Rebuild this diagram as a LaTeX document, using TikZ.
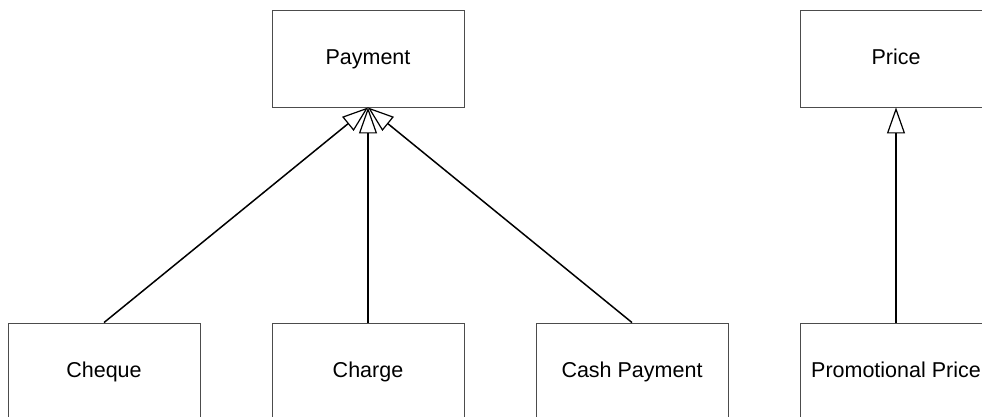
\documentclass[tikz,border=0pt]{standalone}
\usepackage{fontspec}
\setmainfont{Liberation Sans}
\usetikzlibrary{arrows.meta}
\begin{document}
\begin{tikzpicture}[x=1pt,y=-1pt,
  cls/.style={draw=black!70, line width=0.9pt, fill=white, rectangle, minimum width=192pt, minimum height=97pt, inner sep=0pt, text height=15pt, text depth=4pt, font=\fontsize{21.5}{25}\selectfont},
  gen/.style={draw=black, line width=1.5pt, -{Triangle[open, length=26pt, width=18pt, line width=1.2pt]}}]
\clip (0,0) rectangle (982,416);
\fill[white] (0,0) rectangle (982,416);
\node[cls] (payment) at (368,58.5) {Payment};
\node[cls] (price) at (896,58.5) {Price};
\node[cls] (cheque) at (104,371.5) {Cheque};
\node[cls] (charge) at (368,371.5) {Charge};
\node[cls] (cash) at (632,371.5) {Cash Payment};
\node[cls] (promo) at (896,371.5) {Promotional Price};
\draw[gen] (cheque.north) -- (payment.south);
\draw[gen] (charge.north) -- (payment.south);
\draw[gen] (cash.north) -- (payment.south);
\draw[gen] (promo.north) -- (price.south);
\end{tikzpicture}
\end{document}
